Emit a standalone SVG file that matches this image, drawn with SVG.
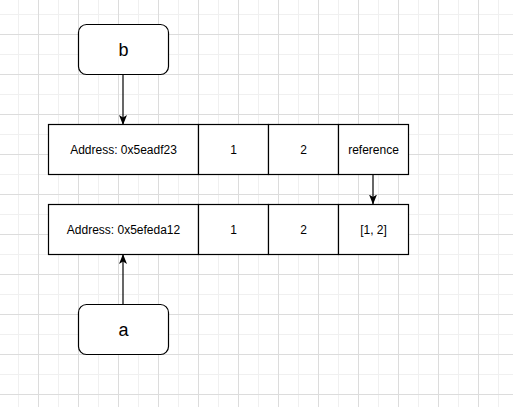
<svg xmlns="http://www.w3.org/2000/svg" width="513" height="407" viewBox="0 0 513 407">
<defs>
<pattern id="grid" x="18" y="14" width="40" height="40" patternUnits="userSpaceOnUse">
<path d="M0.5,0 V40 M0,0.5 H40" stroke="#f0f0f0" stroke-width="1" fill="none"/>
<path d="M20.5,0 V40 M0,20.5 H40" stroke="#dcdcdc" stroke-width="1" fill="none"/>
</pattern>
<marker id="arr" viewBox="0 0 10 10" refX="9.5" refY="5" markerWidth="10" markerHeight="10" markerUnits="userSpaceOnUse" orient="auto">
<path d="M0,1 L10,5 L0,9 L2.5,5 Z" fill="#000"/>
</marker>
<style>
.box{fill:#fff;stroke:#000;stroke-width:1.2}
.t12{font-family:"Liberation Sans",Arial,sans-serif;font-size:12px;fill:#000;text-anchor:middle;dominant-baseline:central}
.t18{font-family:"Liberation Sans",Arial,sans-serif;font-size:18px;fill:#000;text-anchor:middle;dominant-baseline:central}
.conn{stroke:#000;stroke-width:1.2;fill:none;marker-end:url(#arr)}
</style>
</defs>
<rect x="0" y="0" width="513" height="407" fill="#fff"/>
<rect x="0" y="0" width="513" height="407" fill="url(#grid)"/>
<g id="connectors">
<line class="conn" x1="123" y1="74.5" x2="123" y2="124.5"/>
<line class="conn" x1="373" y1="174.5" x2="373" y2="204"/>
<line class="conn" x1="123" y1="304.5" x2="123" y2="254.5"/>
</g>
<g id="node-b">
<rect class="box" x="78.5" y="24.5" width="90" height="50" rx="8" ry="8"/>
<text class="t18" x="123.5" y="50">b</text>
</g>
<g id="node-a">
<rect class="box" x="78.5" y="304.5" width="90" height="50" rx="8" ry="8"/>
<text class="t18" x="123.5" y="330">a</text>
</g>
<g id="row-b">
<rect class="box" x="48.5" y="124.5" width="150" height="50"/>
<text class="t12" x="123.5" y="150">Address: 0x5eadf23</text>
<rect class="box" x="198.5" y="124.5" width="70" height="50"/>
<text class="t12" x="233.5" y="150">1</text>
<rect class="box" x="268.5" y="124.5" width="70" height="50"/>
<text class="t12" x="303.5" y="150">2</text>
<rect class="box" x="338.5" y="124.5" width="70" height="50"/>
<text class="t12" x="373.5" y="150">reference</text>
</g>
<g id="row-a">
<rect class="box" x="48.5" y="204.5" width="150" height="50"/>
<text class="t12" x="123.5" y="230">Address: 0x5efeda12</text>
<rect class="box" x="198.5" y="204.5" width="70" height="50"/>
<text class="t12" x="233.5" y="230">1</text>
<rect class="box" x="268.5" y="204.5" width="70" height="50"/>
<text class="t12" x="303.5" y="230">2</text>
<rect class="box" x="338.5" y="204.5" width="70" height="50"/>
<text class="t12" x="373.5" y="230">[1, 2]</text>
</g>
</svg>
